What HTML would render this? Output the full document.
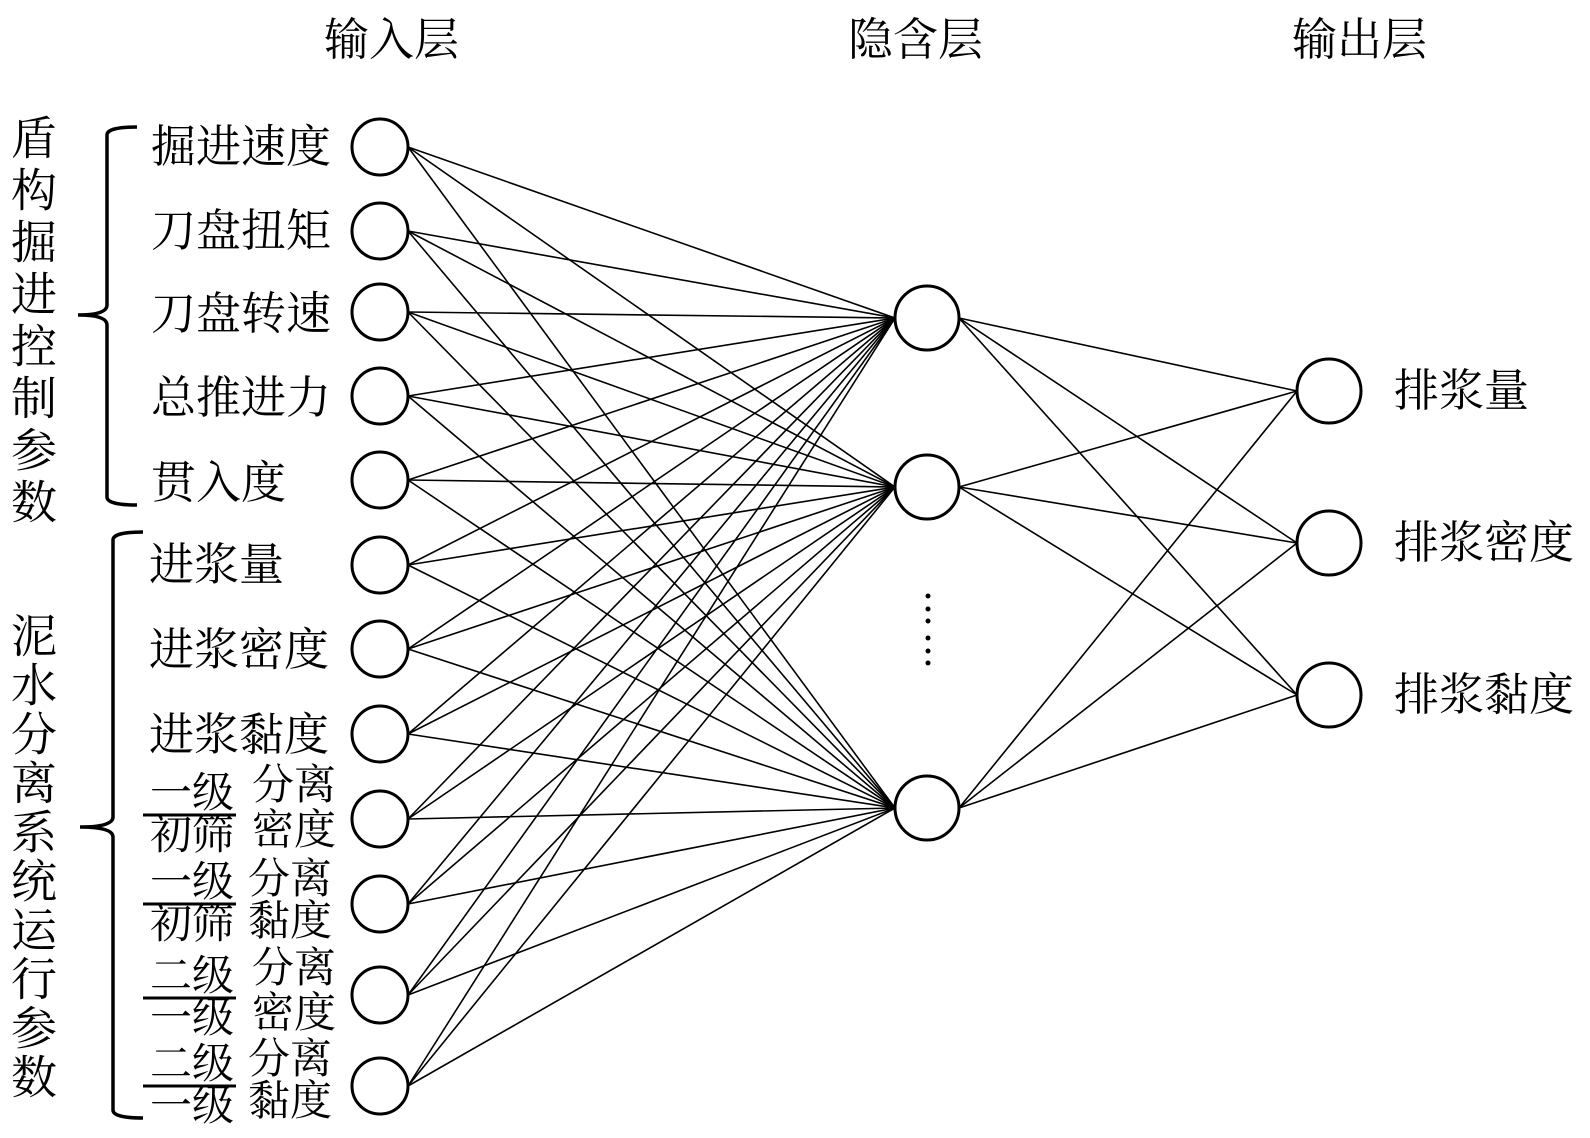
<!DOCTYPE html>
<html><head><meta charset="utf-8"><style>
html,body{margin:0;padding:0;background:#fff;}
svg{display:block;}
text{font-family:"Liberation Serif","Noto Serif CJK SC",serif;fill:#000;}
</style></head><body>
<svg width="1590" height="1138" viewBox="0 0 1590 1138" xmlns="http://www.w3.org/2000/svg">
<g id="lines" stroke="#000" stroke-width="1.6" fill="none"></g>
<g font-size="45" dominant-baseline="central">
<text x="324" y="40">输入层</text>
<text x="848" y="40">隐含层</text>
<text x="1292" y="40">输出层</text>
</g>
<g font-size="46" dominant-baseline="central" text-anchor="middle">
<text x="34" y="139">盾</text><text x="34" y="191">构</text><text x="34" y="243">掘</text><text x="34" y="295">进</text>
<text x="34" y="347">控</text><text x="34" y="399">制</text><text x="34" y="451">参</text><text x="34" y="503">数</text>
<text x="34" y="637">泥</text><text x="34" y="686">水</text><text x="34" y="735">分</text><text x="34" y="784">离</text>
<text x="34" y="833">系</text><text x="34" y="882">统</text><text x="34" y="931">运</text><text x="34" y="980">行</text>
<text x="34" y="1029">参</text><text x="34" y="1078">数</text>
</g>
<path d="M137 127 Q107 127 107 135 L107 305 Q107 315 78 315 Q107 315 107 325 L107 497 Q107 505 137 505" stroke="#000" stroke-width="3.5" fill="none"/>
<path d="M143 532 Q113 532 113 540 L113 817 Q113 827 80 827 Q113 827 113 837 L113 1110 Q113 1118 143 1118" stroke="#000" stroke-width="3.5" fill="none"/>
<g font-size="45" dominant-baseline="central">
<text x="151" y="147">掘进速度</text>
<text x="151" y="231">刀盘扭矩</text>
<text x="151" y="314">刀盘转速</text>
<text x="151" y="398">总推进力</text>
<text x="151" y="483">贯入度</text>
<text x="149" y="565">进浆量</text>
<text x="149" y="650">进浆密度</text>
<text x="149" y="735">进浆黏度</text>
</g>
<g font-size="42" dominant-baseline="central">
<text x="150" y="794">一级</text><text x="150" y="836">初筛</text>
<text x="252" y="786">分离</text><text x="252" y="831">密度</text>
<line x1="143" y1="815" x2="236" y2="815" stroke="#000" stroke-width="3"/>
<text x="150" y="883">一级</text><text x="150" y="925">初筛</text>
<text x="248" y="880">分离</text><text x="248" y="922">黏度</text>
<line x1="143" y1="904" x2="236" y2="904" stroke="#000" stroke-width="3"/>
<text x="150" y="977">二级</text><text x="150" y="1019">一级</text>
<text x="252" y="969">分离</text><text x="252" y="1014">密度</text>
<line x1="143" y1="998" x2="236" y2="998" stroke="#000" stroke-width="3"/>
<text x="150" y="1065">二级</text><text x="150" y="1107">一级</text>
<text x="248" y="1060">分离</text><text x="248" y="1102">黏度</text>
<line x1="143" y1="1086" x2="236" y2="1086" stroke="#000" stroke-width="3"/>
</g>
<g font-size="45" dominant-baseline="central">
<text x="1394" y="391">排浆量</text>
<text x="1394" y="543">排浆密度</text>
<text x="1394" y="695">排浆黏度</text>
</g>
<g fill="#000">
<circle cx="928" cy="596" r="2.5"/><circle cx="928" cy="609" r="2.5"/><circle cx="928" cy="621" r="2.5"/>
<circle cx="928" cy="638" r="2.5"/><circle cx="928" cy="651" r="2.5"/><circle cx="928" cy="663" r="2.5"/>
</g>
<g id="nodes" stroke="#000" stroke-width="3" fill="#fff"></g>
<script>
var inY=[147,231,312,396,480,565,649,734,819,904,995,1086];
var hY=[318,487,808];var oY=[391,543,695];
var L=document.getElementById('lines'),N=document.getElementById('nodes');
var ns='http://www.w3.org/2000/svg';
function ln(a,b,c,d){var e=document.createElementNS(ns,'line');e.setAttribute('x1',a);e.setAttribute('y1',b);e.setAttribute('x2',c);e.setAttribute('y2',d);L.appendChild(e);}
function ci(x,y,r){var e=document.createElementNS(ns,'circle');e.setAttribute('cx',x);e.setAttribute('cy',y);e.setAttribute('r',r);N.appendChild(e);}
inY.forEach(function(y){hY.forEach(function(h){ln(408,y,895,h);});});
hY.forEach(function(h){oY.forEach(function(o){ln(959,h,1297,o);});});
inY.forEach(function(y){ci(380,y,28);});
hY.forEach(function(y){ci(927,y,32);});
oY.forEach(function(y){ci(1329,y,32);});
</script>
</svg>
</body></html>
